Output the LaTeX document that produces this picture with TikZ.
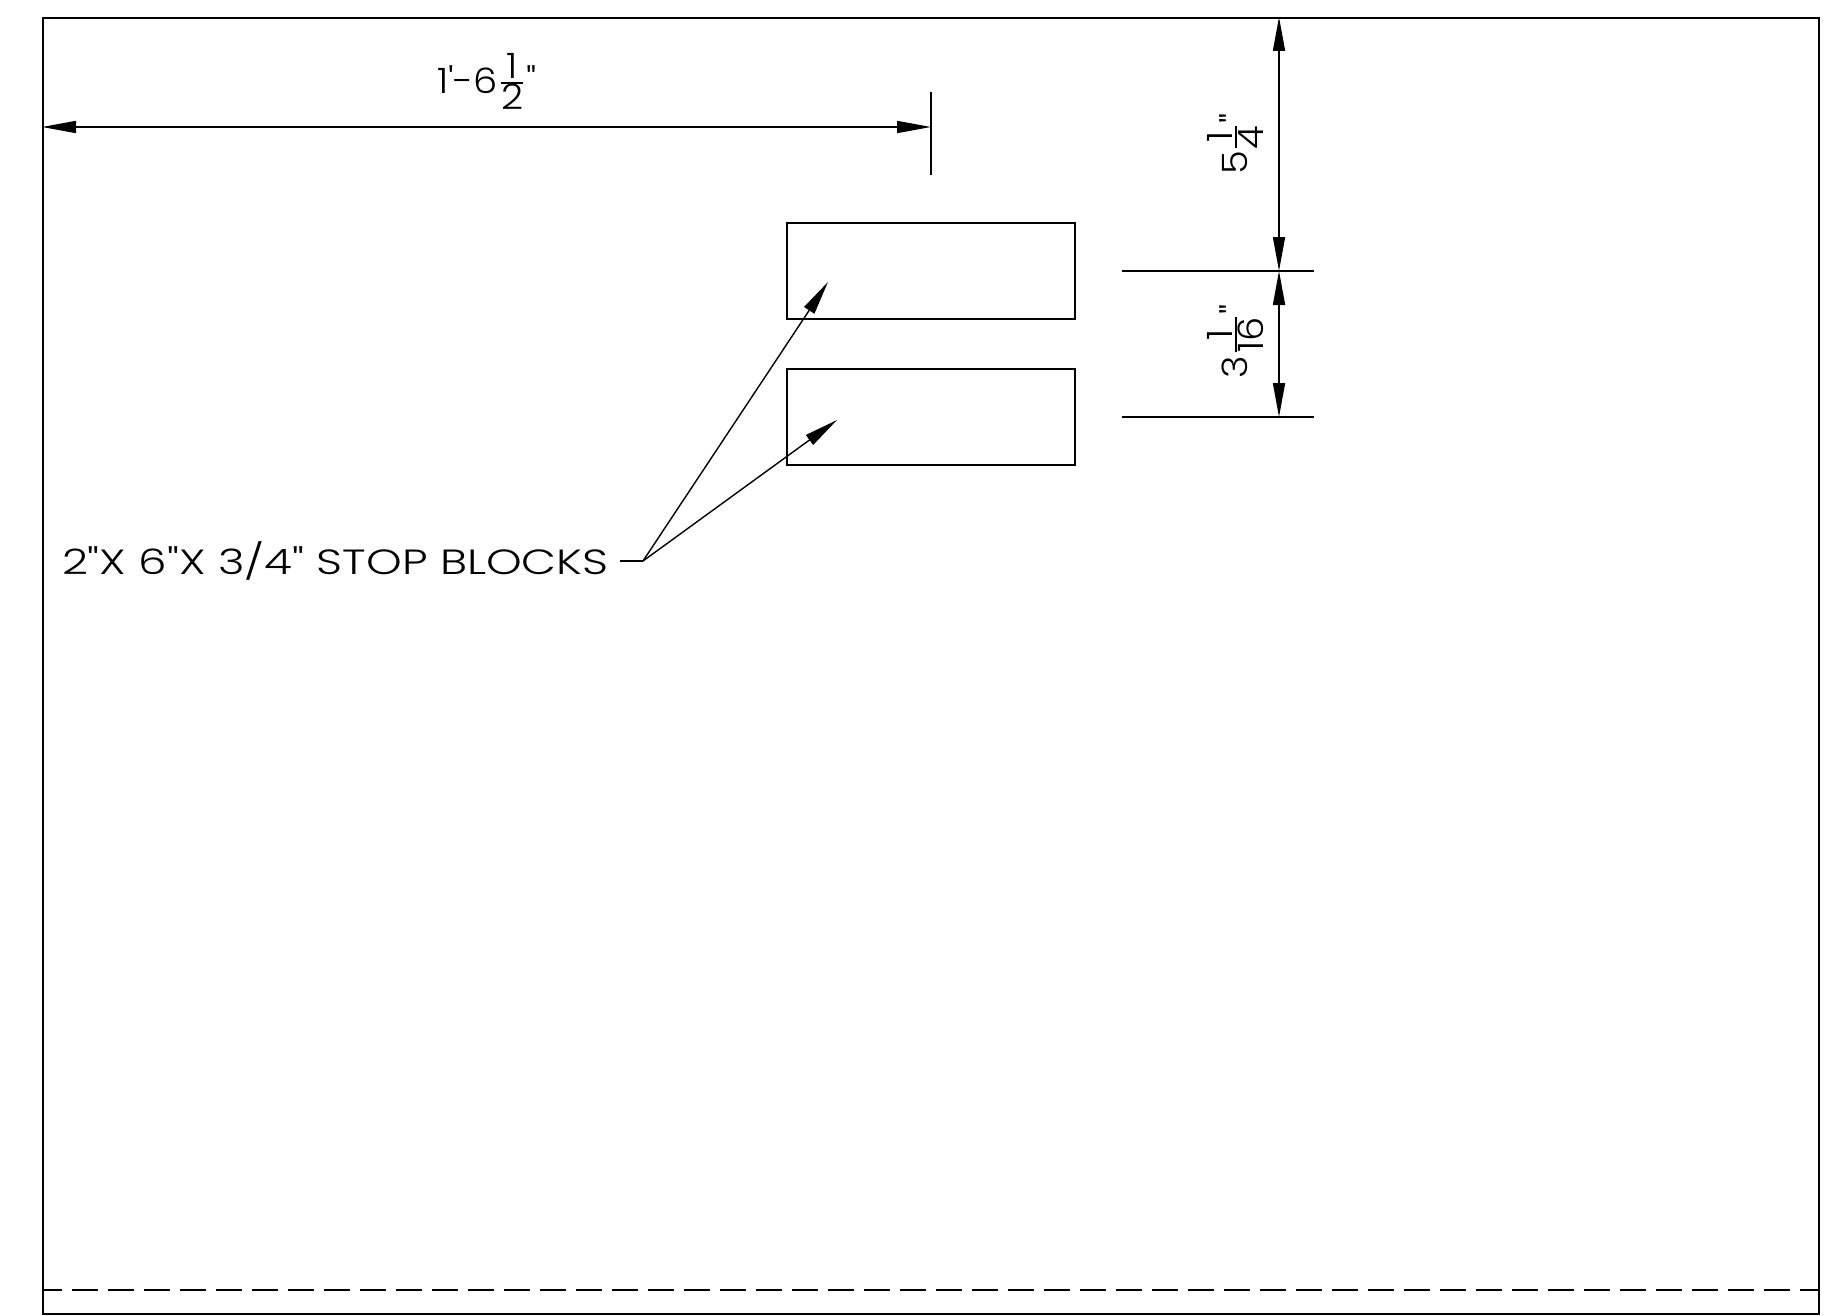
\documentclass[tikz,border=0pt]{standalone}
\usepackage{fontspec}
\newfontfamily\cadfont{Poppins}[UprightFont=* Light,FakeStretch=1.1]
\newfontfamily\cadwide{Poppins}[UprightFont=* Light,FakeStretch=1.295]
\usetikzlibrary{arrows.meta}
\newcommand\cadfrac[2]{\setbox0\hbox{#1}\setbox2\hbox{#2}%
  \dimen0=22pt\ifdim\wd2>\dimen0 \dimen0=\wd2\fi
  \kern3pt\rlap{\raise15pt\hbox to\dimen0{\hss\box0\hss}}%
  \rlap{\lower16pt\hbox to\dimen0{\hss\box2\hss}}%
  \rlap{\raise10.2pt\hbox{\vrule width\dimen0 height1.6pt depth0pt}}%
  \kern\dimen0\kern3pt}
\tikzset{
  cad/.style={line width=1.7pt,draw=black},
  frame/.style={cad,rectangle,inner sep=0pt,outer sep=0pt,minimum width=1776pt,minimum height=1296pt},
  block/.style={cad,rectangle,inner sep=0pt,outer sep=0pt,minimum width=288pt,minimum height=96pt},
  dim/.style={line width=1.7pt,{Triangle[length=34pt,width=12pt]}-{Triangle[length=34pt,width=12pt]}},
  leader/.style={line width=1.4pt,-{Triangle[length=34pt,width=12pt]}},
  cadtext/.style={inner sep=0pt,outer sep=0pt,font=\cadfont\fontsize{35}{35}\selectfont,text=black},
  calltext/.style={inner sep=0pt,outer sep=0pt,font=\cadwide\fontsize{35}{35}\selectfont,text=black}
}
\begin{document}
\begin{tikzpicture}[x=1pt,y=-1pt]
\useasboundingbox (0,0) rectangle (1833,1316);
\node[frame] (sheet) at (931,666) {};
\node[block] (upper) at (931,271) {};
\node[block] (lower) at (931,417) {};
% dashed line
\coordinate (dL) at (43,1290);
\coordinate (dR) at (1819,1290);
\draw[cad,dash pattern=on 26pt off 10pt,dash phase=7pt] (dL) -- (dR);
% horizontal dimension
\coordinate (hL) at (42,127);
\coordinate (hR) at (931,127);
\coordinate (tickT) at (931,92);
\coordinate (tickB) at (931,175);
\draw[dim] (hL) -- (hR);
\draw[cad] (tickT) -- (tickB);
\node[cadtext,anchor=base west] (hlabel) at (437,94) {1'-6\cadfrac{1}{2}"};
% vertical dimensions
\coordinate (vT) at (1279,17);
\coordinate (vM) at (1279,271);
\coordinate (vB) at (1279,417);
\coordinate (e1L) at (1122,271);
\coordinate (e1R) at (1314,271);
\coordinate (e2L) at (1122,417);
\coordinate (e2R) at (1314,417);
\draw[cad] (e1L) -- (e1R);
\draw[cad] (e2L) -- (e2R);
\draw[dim] (vT) -- (vM);
\draw[dim] (vM) -- (vB);
\node[cadtext,anchor=base west,rotate=90] (vlabelA) at (1247,175) {5\cadfrac{1}{4}"};
\node[cadtext,anchor=base west,rotate=90] (vlabelB) at (1247,378) {3\cadfrac{1}{16}"};
% callout
\node[calltext,anchor=base west] (callout) at (62,574) {2"X 6"X 3/4" STOP BLOCKS};
\coordinate (lA) at (620,561);
\coordinate (lB) at (643,561);
\coordinate (tipU) at (828,282);
\coordinate (tipL) at (837,420);
\draw[line width=1.4pt] (lA) -- (lB);
\draw[leader] (lB) -- (tipU);
\draw[leader] (lB) -- (tipL);
\end{tikzpicture}
\end{document}
